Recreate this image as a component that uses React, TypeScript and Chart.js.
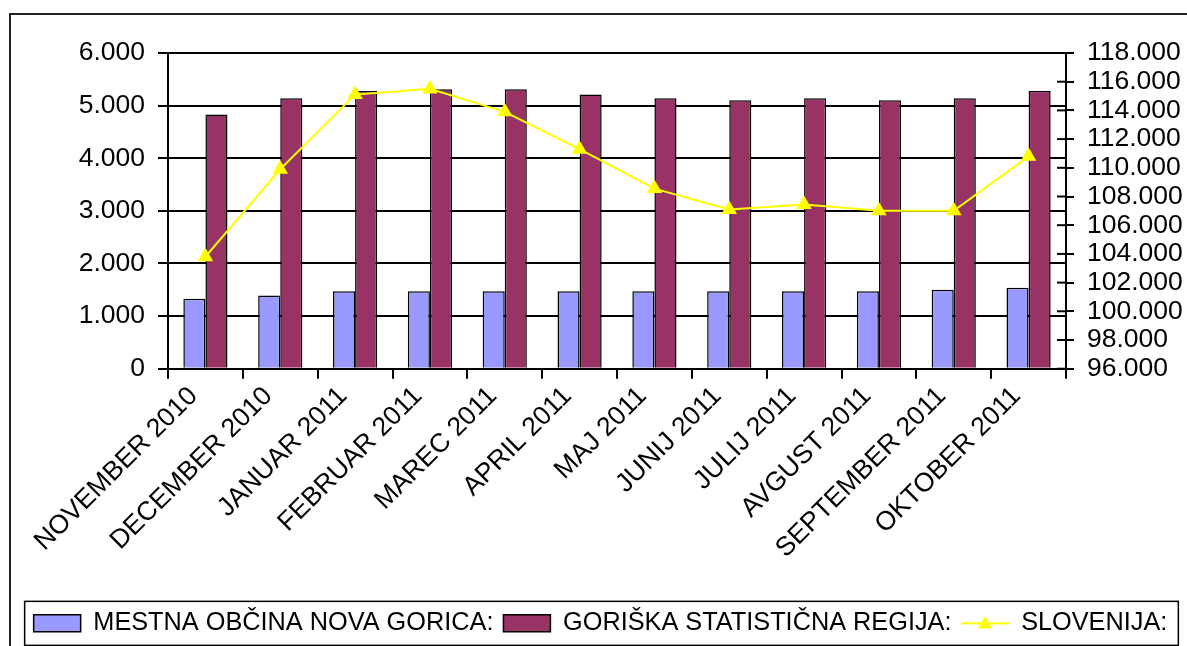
import React, { useEffect, useRef } from "react";
import { Chart, registerables } from "chart.js";

Chart.register(...registerables);

const categories = [
  "NOVEMBER 2010",
  "DECEMBER 2010",
  "JANUAR 2011",
  "FEBRUAR 2011",
  "MAREC 2011",
  "APRIL 2011",
  "MAJ 2011",
  "JUNIJ 2011",
  "JULIJ 2011",
  "AVGUST 2011",
  "SEPTEMBER 2011",
  "OKTOBER 2011",
];

const novaGorica = [1330, 1390, 1470, 1470, 1470, 1470, 1470, 1470, 1470, 1470, 1500, 1540];
const goriskaRegija = [4830, 5140, 5280, 5310, 5310, 5210, 5140, 5100, 5140, 5100, 5140, 5280];
const slovenija = [103800, 109900, 115100, 115500, 113900, 111300, 108550, 107100, 107450, 107000, 107000, 110800];

const seriesNames = [
  "MESTNA OBČINA NOVA GORICA:",
  "GORIŠKA STATISTIČNA REGIJA:",
  "SLOVENIJA:",
];

const FONT = "'Liberation Sans', Arial, sans-serif";
const TICK_SIZE = 26.5;

const fmt = (v: number) =>
  String(Math.round(v)).replace(/\B(?=(\d{3})+(?!\d))/g, ".");

function makeLineMarker(): HTMLCanvasElement {
  const c = document.createElement("canvas");
  c.width = 48;
  c.height = 20;
  const ctx = c.getContext("2d")!;
  ctx.strokeStyle = "#FFFF00";
  ctx.lineWidth = 2;
  ctx.beginPath();
  ctx.moveTo(0, 10);
  ctx.lineTo(48, 10);
  ctx.stroke();
  ctx.fillStyle = "#FFFF00";
  ctx.beginPath();
  ctx.moveTo(24, 3);
  ctx.lineTo(31, 15);
  ctx.lineTo(17, 15);
  ctx.closePath();
  ctx.fill();
  return c;
}

const extrasPlugin = {
  id: "extras",
  afterDraw(chart: any) {
    const ctx = chart.ctx;
    const y1 = chart.scales.y1;
    if (y1) {
      ctx.save();
      ctx.strokeStyle = "#000";
      ctx.lineWidth = 2;
      y1.ticks.forEach((t: any) => {
        const py = y1.getPixelForValue(t.value);
        ctx.beginPath();
        ctx.moveTo(y1.left, py);
        ctx.lineTo(y1.left - 9, py);
        ctx.stroke();
      });
      ctx.restore();
    }
    const lg = chart.legend;
    if (lg && lg.legendHitBoxes && lg.legendHitBoxes.length) {
      const hb = lg.legendHitBoxes;
      const first = hb[0];
      const last = hb[hb.length - 1];
      const cy = first.top + first.height / 2;
      const left = first.left - 9;
      const right = last.left + last.width + 11;
      ctx.save();
      ctx.strokeStyle = "#000";
      ctx.lineWidth = 1.5;
      ctx.strokeRect(left, cy - 22, right - left, 44);
      ctx.restore();
    }
  },
};

export default function App() {
  const ref = useRef<HTMLCanvasElement | null>(null);

  useEffect(() => {
    if (!ref.current) return;
    const marker = makeLineMarker();
    const chart = new Chart(ref.current, {
      type: "bar",
      data: {
        labels: categories,
        datasets: [
          {
            type: "line",
            label: seriesNames[2],
            data: slovenija,
            yAxisID: "y1",
            borderColor: "#FFFF00",
            backgroundColor: "#FFFF00",
            borderWidth: 2,
            pointStyle: "triangle",
            pointRadius: 7,
            pointBackgroundColor: "#FFFF00",
            pointBorderColor: "#FFFF00",
            tension: 0,
            order: 0,
          } as any,
          {
            type: "bar",
            label: seriesNames[0],
            data: novaGorica,
            yAxisID: "y",
            backgroundColor: "#9999FF",
            borderColor: "#000",
            borderWidth: 1.5,
            categoryPercentage: 0.59,
            barPercentage: 1,
            order: 1,
          },
          {
            type: "bar",
            label: seriesNames[1],
            data: goriskaRegija,
            yAxisID: "y",
            backgroundColor: "#993366",
            borderColor: "#000",
            borderWidth: 1.5,
            categoryPercentage: 0.59,
            barPercentage: 1,
            order: 1,
          },
        ],
      },
      options: {
        responsive: false,
        animation: false,
        devicePixelRatio: 1,
        layout: { padding: { top: 53, left: 14, right: 0, bottom: 0 } },
        plugins: {
          tooltip: { enabled: false },
          legend: {
            position: "bottom",
            labels: {
              color: "#000",
              font: { family: FONT, size: 25.3 },
              usePointStyle: true,
              pointStyleWidth: 47,
              boxHeight: 17,
              padding: 10,
              generateLabels: (ch: any) => {
                const items = (Chart.defaults.plugins.legend.labels as any).generateLabels(ch);
                const byName: any = {};
                items.forEach((it: any) => (byName[it.text] = it));
                const out = seriesNames.map((n) => byName[n]);
                out.forEach((it: any, i: number) => {
                  if (i === 2) {
                    it.pointStyle = marker;
                  } else {
                    it.pointStyle = "rect";
                    it.strokeStyle = "#000";
                    it.lineWidth = 1.5;
                  }
                });
                return out;
              },
            },
          },
        },
        scales: {
          x: {
            offset: true,
            grid: {
              display: true,
              offset: true,
              drawOnChartArea: false,
              drawTicks: true,
              tickLength: 10,
              color: "#000",
              lineWidth: 2,
            },
            border: { display: true, color: "#000", width: 2 },
            ticks: {
              color: "#000",
              font: { family: FONT, size: TICK_SIZE },
              minRotation: 45,
              maxRotation: 45,
              autoSkip: false,
              padding: 2,
              labelOffset: -12,
            },
            afterFit: (scale: any) => {
              scale.height = 232;
            },
          },
          y: {
            position: "left",
            min: 0,
            max: 6000,
            grid: {
              color: "#000",
              lineWidth: 2,
              tickLength: 10,
            },
            border: { display: true, color: "#000", width: 2 },
            ticks: {
              stepSize: 1000,
              color: "#000",
              font: { family: FONT, size: TICK_SIZE },
              padding: 13,
              autoSkip: false,
              callback: (v: any) => fmt(Number(v)),
            },
            afterFit: (scale: any) => {
              scale.width = 154;
            },
          },
          y1: {
            position: "right",
            min: 96000,
            max: 118000,
            grid: {
              drawOnChartArea: false,
              color: "#000",
              lineWidth: 2,
              tickLength: 8,
            },
            border: { display: true, color: "#000", width: 2 },
            ticks: {
              stepSize: 2000,
              maxTicksLimit: 30,
              autoSkip: false,
              color: "#000",
              font: { family: FONT, size: TICK_SIZE, lineHeight: 1 },
              padding: 13,
              callback: (v: any) => fmt(Number(v)),
            },
            afterFit: (scale: any) => {
              scale.width = 121;
            },
          },
        },
      },
      plugins: [extrasPlugin],
    } as any);
    return () => chart.destroy();
  }, []);

  return (
    <div
      style={{
        position: "fixed",
        left: 0,
        top: 0,
        width: 1187,
        height: 646,
        background: "#fff",
        overflow: "hidden",
      }}
    >
      <canvas ref={ref} width={1187} height={646} style={{ display: "block" }} />
      <div
        style={{
          position: "absolute",
          left: 9,
          top: 13,
          width: 1300,
          height: 800,
          border: "2px solid #222",
          pointerEvents: "none",
        }}
      />
    </div>
  );
}
